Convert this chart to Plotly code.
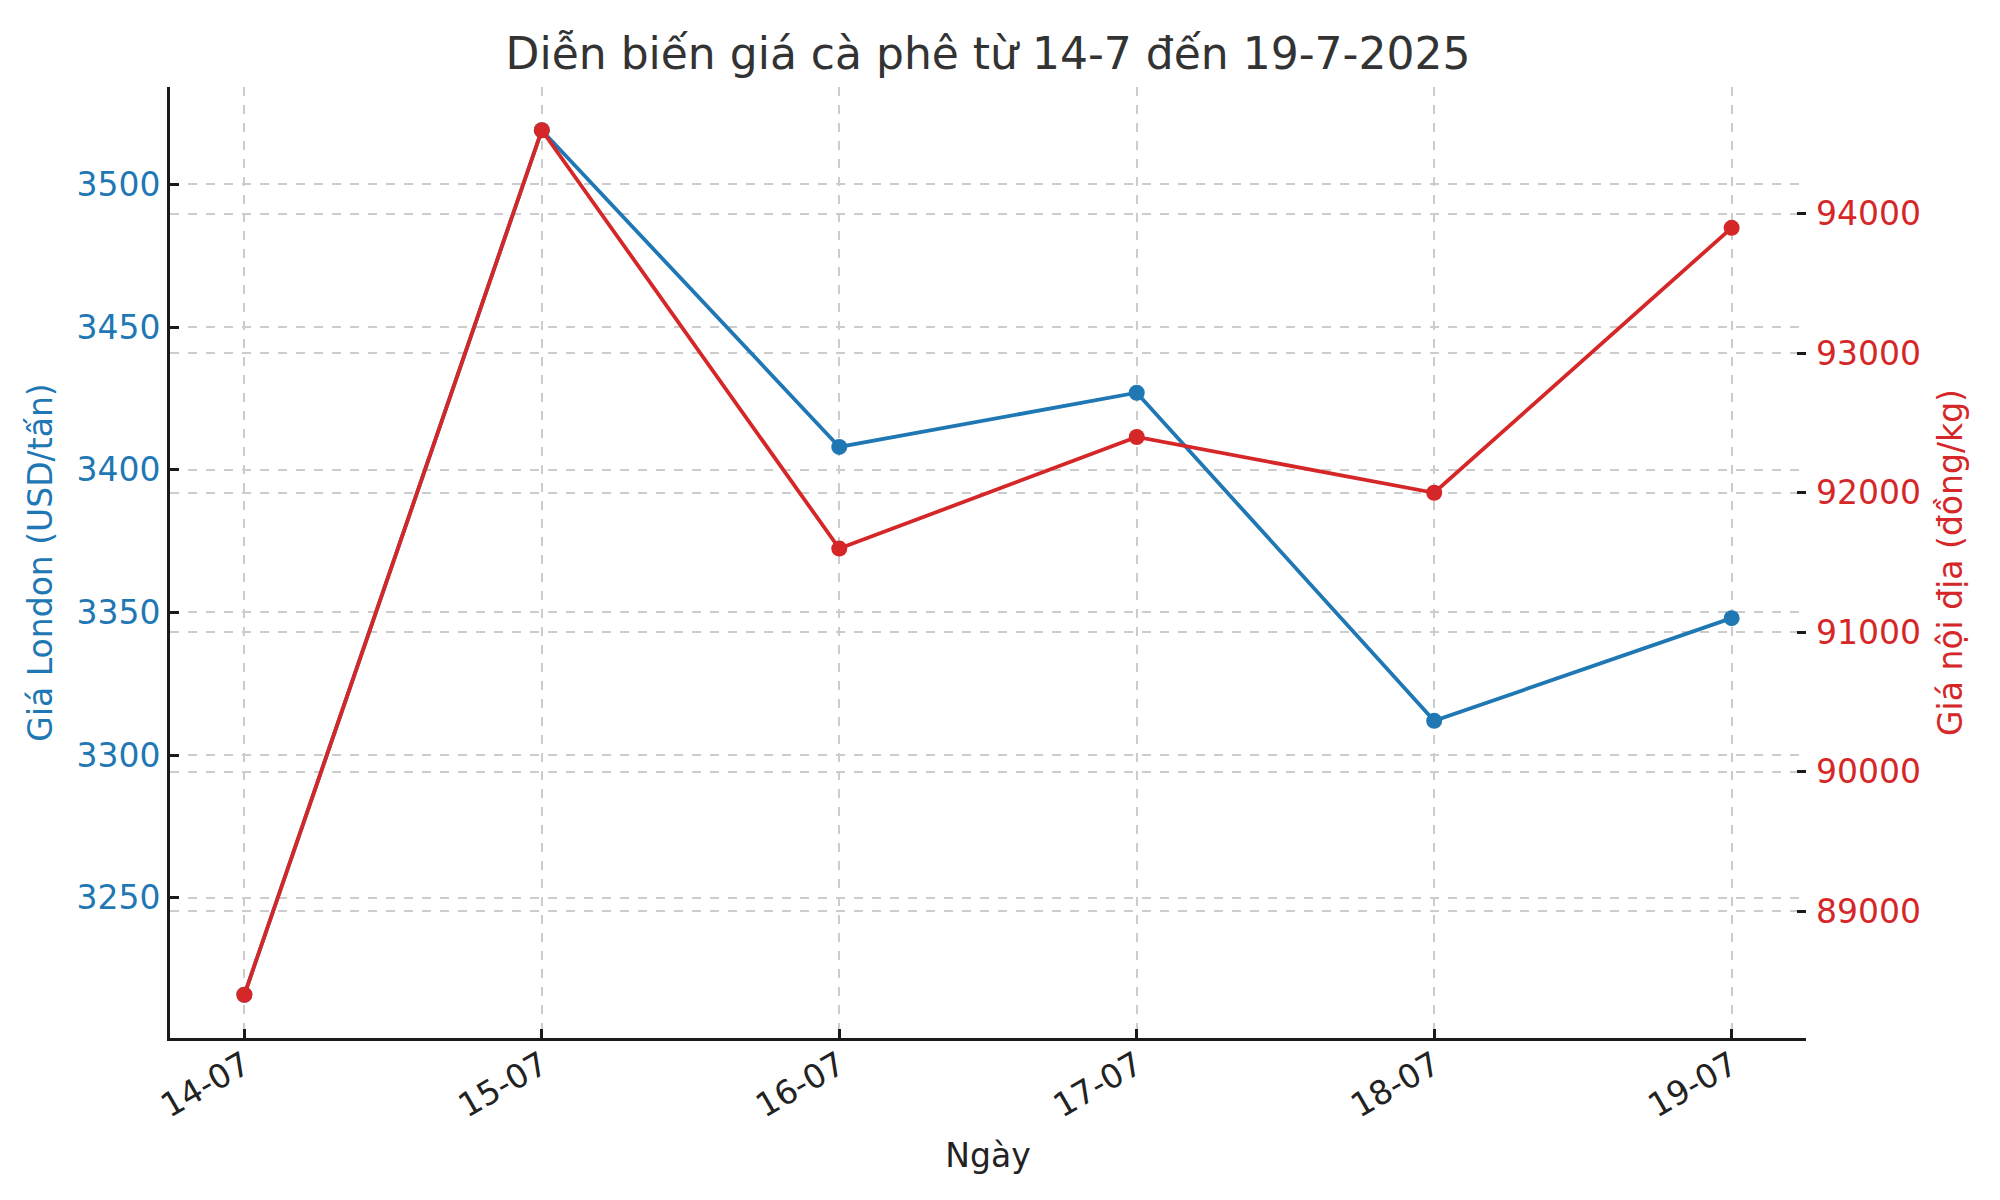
import plotly.graph_objects as go

# dates on the x axis
ngay = ["14-07", "15-07", "16-07", "17-07", "18-07", "19-07"]
# London robusta price (USD/ton)
gia_london = [3216, 3519, 3408, 3427, 3312, 3348]
# domestic price (VND/kg)
gia_noi_dia = [88400, 94600, 91600, 92400, 92000, 93900]

blue = "#1f77b4"
red = "#d62728"
font = "DejaVu Sans"


def padded(vals, frac=0.05):
    lo, hi = min(vals), max(vals)
    pad = (hi - lo) * frac
    return [lo - pad, hi + pad]


fig = go.Figure()
fig.add_trace(go.Scatter(
    x=ngay, y=gia_london, mode="lines+markers", name="London",
    line=dict(color=blue, width=3.8), marker=dict(size=16, color=blue),
    yaxis="y"))
fig.add_trace(go.Scatter(
    x=ngay, y=gia_noi_dia, mode="lines+markers", name="Nội địa",
    line=dict(color=red, width=3.8), marker=dict(size=16, color=red),
    yaxis="y2"))

grid = dict(showgrid=True, gridcolor="#cccccc", griddash="dash", gridwidth=1.5)
tick = dict(ticks="inside", ticklen=9, tickwidth=2.5, tickcolor="#1a1a1a")

fig.update_layout(
    width=2000, height=1200,
    margin=dict(l=162, r=202, t=79, b=170),
    plot_bgcolor="white", paper_bgcolor="white",
    showlegend=False,
    font=dict(family=font, size=33, color="#222222"),
    title=dict(text="Diễn biến giá cà phê từ 14-7 đến 19-7-2025",
               xref="paper", x=0.5, xanchor="center",
               y=0.962, yanchor="middle",
               font=dict(size=44, color="#333333")),
    xaxis=dict(
        type="category", range=[-0.25, 5.25], tickangle=-30,
        ticklabelstandoff=-8,
        showline=True, linecolor="#1a1a1a", linewidth=3,
        title=dict(text="Ngày", standoff=20, font=dict(size=33)),
        tickfont=dict(size=33, color="#222222"),
        **tick, **grid),
    yaxis=dict(
        range=padded(gia_london), dtick=50,
        showline=True, linecolor="#1a1a1a", linewidth=3,
        tickfont=dict(size=33, color=blue),
        title=dict(text="Giá London (USD/tấn)", standoff=14,
                   font=dict(size=33, color=blue)),
        zeroline=False,
        **tick, **grid),
    yaxis2=dict(
        overlaying="y", side="right",
        range=padded(gia_noi_dia), dtick=1000, tickformat="d",
        ticklabelstandoff=9,
        showline=False,
        tickfont=dict(size=33, color=red),
        title=dict(text="Giá nội địa (đồng/kg)", standoff=18,
                   font=dict(size=33, color=red)),
        zeroline=False,
        **tick, **grid),
)

fig.write_html("out.html")
